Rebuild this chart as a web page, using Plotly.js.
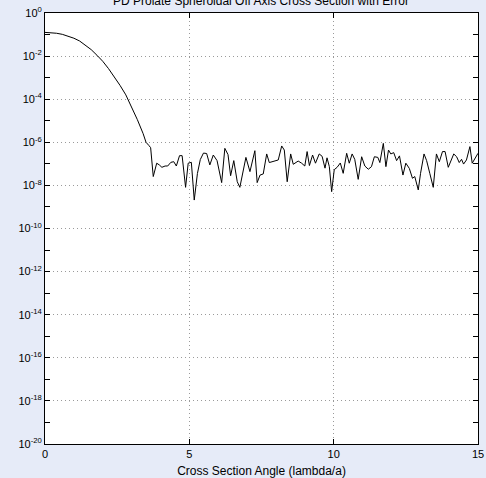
<!DOCTYPE html>
<html>
<head>
<meta charset="utf-8">
<script src="https://cdn.plot.ly/plotly-3.0.1.min.js"></script>
<style>html,body{margin:0;padding:0;background:#e6ebf8;}</style>
</head>
<body>
<div id="chart" style="width:486px;height:478px;"></div>
<script>
// Cross section angle (lambda/a)
const angle = [
  0, 0.2, 0.4, 0.6, 0.8, 1.0, 1.2, 1.4, 1.6, 1.8, 2.0, 2.2, 2.4, 2.6, 2.8, 3.0, 3.2, 3.4, 3.5, 3.6, 3.66,
  3.75, 3.87, 3.96, 4.05, 4.16, 4.25, 4.36, 4.46, 4.55, 4.66, 4.75, 4.87, 4.96, 5.07, 5.17, 5.28, 5.38, 5.49,
  5.60, 5.71, 5.83, 5.96, 6.12, 6.23, 6.34, 6.43, 6.54, 6.66, 6.75, 6.86, 6.96, 7.10, 7.27, 7.35, 7.45, 7.56,
  7.68, 7.77, 7.91, 8.08, 8.20, 8.29, 8.39, 8.51, 8.60, 8.77, 8.89, 9.00, 9.08, 9.16, 9.27, 9.37, 9.50, 9.60,
  9.70, 9.77, 9.85, 9.93, 10.02, 10.12, 10.23, 10.33, 10.45, 10.54, 10.64, 10.73, 10.85, 10.97, 11.08, 11.20,
  11.31, 11.41, 11.53, 11.60, 11.72, 11.81, 11.90, 11.98, 12.08, 12.18, 12.28, 12.40, 12.50, 12.62, 12.73,
  12.81, 12.93, 13.01, 13.13, 13.22, 13.33, 13.45, 13.56, 13.66, 13.77, 13.86, 13.97, 14.08, 14.16, 14.26,
  14.35, 14.43, 14.50, 14.60, 14.72, 14.80, 14.88, 15.0
];
// log10 of the cross section with error
const log10Section = [
  -0.90, -0.91, -0.94, -0.99, -1.07, -1.17, -1.30, -1.50, -1.70, -1.96, -2.24, -2.58, -2.95, -3.36, -3.80, -4.35, -4.95, -5.60, -6.00, -6.15, -6.25,
  -7.59, -6.97, -7.05, -7.16, -7.10, -7.10, -6.93, -6.90, -7.10, -6.62, -6.62, -8.09, -6.97, -6.93, -8.68, -7.45, -6.80, -6.50,
  -6.52, -7.05, -6.59, -6.85, -7.87, -6.28, -6.57, -7.55, -6.85, -7.83, -8.09, -7.44, -6.70, -7.36, -6.39, -7.87, -7.52, -7.47,
  -6.54, -6.94, -6.90, -6.82, -6.17, -6.36, -7.83, -6.54, -7.02, -6.87, -6.97, -7.10, -6.43, -7.08, -6.59, -6.97, -6.54, -6.65,
  -7.20, -6.72, -7.13, -8.29, -7.27, -7.16, -6.96, -7.44, -6.51, -6.97, -6.54, -6.79, -7.72, -6.67, -7.10, -7.25,
  -7.13, -6.67, -6.70, -6.94, -6.05, -7.13, -6.36, -6.54, -6.48, -6.85, -6.63, -7.52, -6.97, -7.21, -7.67,
  -7.59, -8.21, -7.44, -6.54, -6.85, -7.44, -8.09, -6.54, -6.90, -6.43, -6.43, -7.16, -6.82, -6.54, -6.67,
  -6.94, -6.79, -7.01, -6.82, -6.20, -6.97, -6.79, -6.51
];
const section = log10Section.map(v => Math.pow(10, v));

const xTicks = [0, 5, 10, 15];
const yExponents = [-20, -18, -16, -14, -12, -10, -8, -6, -4, -2, 0];
const yMinorExponents = [-19, -17, -15, -13, -11, -9, -7, -5, -3, -1];
const yTickVals = yExponents.map(e => Math.pow(10, e));
const yTickText = yExponents.map(e => '10<sup>' + (e === 0 ? '0' : '-' + Math.abs(e)) + '</sup>');
const yMinorVals = yMinorExponents.map(e => Math.pow(10, e));

const trace = {
  x: angle, y: section, type: 'scatter', mode: 'lines',
  line: {color: '#000000', width: 1}, hoverinfo: 'skip'
};

const gridDash = '1px,3px';
const layout = {
  width: 486, height: 478,
  margin: {l: 45, r: 8, t: 13, b: 34, pad: 0},
  paper_bgcolor: '#e6ebf8', plot_bgcolor: '#ffffff',
  font: {family: 'Liberation Sans, Arial, sans-serif', size: 11, color: '#000000'},
  showlegend: false,
  title: {text: 'PD Prolate Spheroidal Off Axis Cross Section with Error',
          font: {size: 12, color: '#000000'}, x: 0.537, xanchor: 'center',
          y: 0.999, yref: 'container', yanchor: 'middle'},
  xaxis: {
    range: [0, 15], tickmode: 'array', tickvals: xTicks,
    ticks: 'inside', ticklen: 5, tickcolor: '#000', tickwidth: 1,
    showline: true, linecolor: '#000', linewidth: 1, mirror: 'ticks',
    showgrid: true, gridcolor: '#9a9a9a', griddash: gridDash, gridwidth: 1,
    zeroline: false, automargin: false,
    title: {text: 'Cross Section Angle (lambda/a)', standoff: 9, font: {size: 12}}
  },
  yaxis: {
    type: 'log', range: [-20, 0], tickmode: 'array', tickvals: yTickVals, ticktext: yTickText,
    ticks: 'inside', ticklen: 5, tickcolor: '#000', tickwidth: 1,
    showline: true, linecolor: '#000', linewidth: 1, mirror: 'ticks',
    showgrid: true, gridcolor: '#9a9a9a', griddash: gridDash, gridwidth: 1,
    zeroline: false, automargin: false,
    minor: {tickmode: 'array', tickvals: yMinorVals, ticks: 'inside', ticklen: 5,
            tickcolor: '#000', showgrid: false}
  }
};

Plotly.newPlot('chart', [trace], layout, {displayModeBar: false, staticPlot: true});
</script>
</body>
</html>
